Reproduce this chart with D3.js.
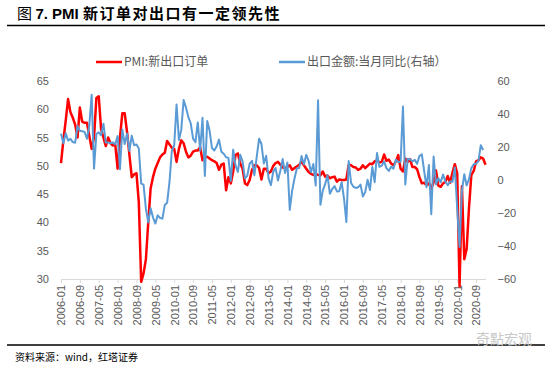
<!DOCTYPE html>
<html>
<head>
<meta charset="utf-8">
<script src="https://cdn.jsdelivr.net/npm/d3@7"></script>
<style>
  body { margin: 0; background: #fff; }
  svg { display: block; }
</style>
</head>
<body>
<svg id="chart" width="550" height="368"></svg>
<script>
// PMI new export orders, monthly 2006-01 .. 2021-01 (left axis)
const pmiNewExport = [
  50.5, 54.5, 58.0, 61.8, 59.5, 58.5, 57.3, 55.0, 60.3, 57.8, 57.6, 57.6,
  55.3, 53.0, 55.0, 62.0, 62.3, 56.5, 55.0, 53.5, 55.0, 54.0, 53.6, 53.8,
  49.5, 55.0, 59.3, 59.3, 56.0, 52.0, 48.0, 48.5, 48.7, 43.5, 29.5, 31.0,
  33.5, 40.0, 46.0, 48.0, 49.5, 50.5, 51.5, 52.0, 52.3, 54.4, 53.8, 53.2,
  53.0, 50.7, 53.0, 54.5, 54.0, 52.5, 51.5, 51.8, 52.5, 52.7, 52.7, 53.3,
  51.0, 51.6, 51.6, 51.3, 51.0, 50.8, 50.5, 49.3, 50.2, 50.4, 45.7, 48.0,
  46.9, 49.0, 51.9, 52.2, 50.4, 49.5, 46.9, 46.6, 47.5, 49.3, 50.1, 50.1,
  49.6, 47.6, 49.5, 49.5, 48.7, 49.0, 50.0, 50.5, 50.7, 50.2, 49.7, 49.6,
  49.8, 50.1, 49.3, 49.6, 49.9, 50.2, 50.7, 50.1, 49.5, 48.9, 48.6, 48.4,
  48.6, 48.4, 48.3, 49.0, 48.1, 48.3, 47.8, 48.0, 48.1, 47.2, 47.6, 47.5,
  47.5, 47.6, 50.2, 50.1, 49.8, 49.7, 49.3, 49.5, 50.1, 49.6, 50.0, 50.4,
  50.3, 50.8, 51.0, 50.6, 50.7, 52.0, 50.9, 51.1, 50.4, 50.1, 50.8, 51.9,
  49.5, 49.0, 51.3, 50.7, 51.2, 49.8, 49.8, 49.4, 48.0, 46.9, 47.0, 46.6,
  46.9, 46.0, 47.1, 49.2, 46.5, 46.3, 46.9, 47.2, 48.2, 47.0, 48.8, 50.3,
  48.7, 28.7, 46.4, 33.5, 35.3, 42.6, 48.4, 49.1, 50.8, 51.0, 51.5, 51.3,
  50.2
]

// Exports, monthly yoy %, 2006-01 .. 2020-12 (right axis)
const exportYoy = [
  28.1, 22.2, 28.3, 23.9, 24.9, 23.0, 22.6, 32.8, 29.8, 29.6, 29.1, 25.0,
  33.0, 51.7, 6.9, 27.9, 28.9, 27.1, 34.1, 22.7, 22.8, 22.3, 22.8, 21.7,
  26.6, 6.5, 30.6, 21.8, 28.1, 17.6, 26.9, 21.1, 21.5, 19.1, -2.2, -2.8,
  -17.5, -25.7, -17.1, -22.6, -26.4, -21.4, -23.0, -23.4, -15.2, -13.8, -1.2, 17.7,
  21.0, 45.7, 24.3, 30.5, 48.5, 43.9, 38.1, 34.4, 25.1, 22.9, 34.9, 17.9,
  37.7, 2.4, 35.8, 29.9, 19.4, 17.9, 20.4, 24.5, 17.1, 15.9, 13.8, 13.4,
  -0.5, 18.4, 8.9, 4.9, 15.3, 11.3, 1.0, 2.7, 9.9, 11.6, 2.9, 14.1,
  25.0, 21.8, 10.0, 14.7, 1.0, -3.1, 5.1, 7.2, -0.3, 5.6, 12.7, 4.3,
  10.6, -18.1, -6.6, 0.9, 7.0, 7.2, 14.5, 9.4, 15.3, 11.6, 4.7, 9.7,
  -3.3, 48.3, -15.0, -6.4, -2.5, 2.8, -8.3, -5.5, -3.7, -6.9, -6.8, -1.4,
  -11.2, -25.4, 11.5, -1.8, -4.1, -4.8, -4.4, -2.8, -10.0, -7.3, 0.1, -6.1,
  7.9, -1.3, 16.4, 8.0, 8.7, 11.3, 7.2, 5.5, 8.1, 6.9, 12.3, 10.9,
  11.1, 44.5, -2.7, 12.9, 12.6, 11.3, 12.2, 9.8, 14.5, 15.6, 5.4, -4.4,
  9.1, -20.7, 14.2, -2.7, 1.1, -1.3, 3.3, -1.0, -3.2, -0.9, -1.1, 7.6,
  -17.2, -40.6, -6.6, 3.5, -3.3, 0.5, 7.2, 9.5, 9.9, 11.4, 21.1, 18.1
]

const xTickLabels = [
  "2006-01", "2006-09", "2007-05", "2008-01", "2008-09", "2009-05",
  "2010-01", "2010-09", "2011-05", "2012-01", "2012-09", "2013-05",
  "2014-01", "2014-09", "2015-05", "2016-01", "2016-09", "2017-05",
  "2018-01", "2018-09", "2019-05", "2020-01", "2020-09"
]
const leftTicks = [30, 35, 40, 45, 50, 55, 60, 65]
const rightTicks = [-60, -40, -20, 0, 20, 40, 60]
const seriesNames = ["PMI:新出口订单", "出口金额:当月同比(右轴）"]

const months = pmiNewExport.map((v, i) => d3.timeFormat("%Y-%m")(new Date(2006, i, 1)))

const grey = "#595959"
const red = "#ff0000"
const blue = "#5b9bd5"
const plot = {left: 61, right: 485.5, top: 81, bottom: 279}

const svg = d3.select("#chart")

// title + rule
const title = svg.append("text")
  .attr("x", 17)
  .attr("y", 19)
  .style("font-size", "15px")
  .style("fill", "#000")
title.append("tspan").text("图 ")
  .style("font-family", "'Noto Sans CJK SC'")
title.append("tspan").text("7. PMI ")
  .style("font-family", "'Liberation Sans', Arial")
  .style("font-weight", "bold")
title.append("tspan").text("新订单对出口有一定领先性")
  .style("font-family", "'Noto Sans CJK SC'")
  .style("font-weight", "bold")
  .style("letter-spacing", "1.5px")

svg.append("line")
  .attr("x1", 7).attr("x2", 545)
  .attr("y1", 25.5).attr("y2", 25.5)
  .attr("stroke", "#000").attr("stroke-width", 1.5)

// scales
const x = d3.scalePoint().domain(months).range([plot.left, plot.right])
const yLeft = d3.scaleLinear().domain([30, 65]).range([plot.bottom, plot.top])
const yRight = d3.scaleLinear().domain([-60, 60]).range([plot.bottom, plot.top])

// axes
const axisFont = "'Liberation Sans', 'Noto Sans CJK SC', sans-serif"

const gLeft = svg.append("g")
  .attr("transform", `translate(${plot.left},0)`)
  .call(d3.axisLeft(yLeft).tickValues(leftTicks).tickSize(0).tickPadding(12))
gLeft.select(".domain").remove()

const gRight = svg.append("g")
  .attr("transform", `translate(${plot.right},0)`)
  .call(d3.axisRight(yRight).tickValues(rightTicks).tickSize(0).tickPadding(12))
gRight.select(".domain").remove()

const gBottom = svg.append("g")
  .attr("transform", `translate(0,${plot.bottom})`)
  .call(d3.axisBottom(x).tickValues(xTickLabels).tickSize(4).tickSizeOuter(0))
gBottom.select(".domain").attr("stroke", "#d9d9d9").attr("stroke-width", 1)
gBottom.selectAll(".tick line").attr("stroke", "#d9d9d9")
gBottom.selectAll("text")
  .attr("transform", "rotate(-90)")
  .attr("x", -6)
  .attr("y", 0)
  .attr("dy", "0.35em")
  .style("text-anchor", "end")

svg.selectAll(".tick text")
  .style("font-family", axisFont)
  .style("font-size", "11px")
  .style("fill", grey)

// lines
const pmiLine = d3.line()
  .x((d, i) => x(months[i]))
  .y(d => yLeft(d))

const exportLine = d3.line()
  .x((d, i) => x(months[i]))
  .y(d => yRight(d))

svg.append("path")
  .datum(pmiNewExport)
  .attr("d", pmiLine)
  .attr("fill", "none")
  .attr("stroke", red)
  .attr("stroke-width", 2.5)
  .attr("stroke-linejoin", "round")

svg.append("path")
  .datum(exportYoy)
  .attr("d", exportLine)
  .attr("fill", "none")
  .attr("stroke", blue)
  .attr("stroke-width", 2)
  .attr("stroke-linejoin", "round")

// legend
const legend = [
  {name: seriesNames[0], colour: red, x: 96},
  {name: seriesNames[1], colour: blue, x: 279}
]
const gLegend = svg.append("g")
legend.forEach(item => {
  gLegend.append("line")
    .attr("x1", item.x).attr("x2", item.x + 26)
    .attr("y1", 62).attr("y2", 62)
    .attr("stroke", item.colour).attr("stroke-width", 2.5)
  gLegend.append("text")
    .attr("x", item.x + 28)
    .attr("y", 62)
    .attr("dy", "0.35em")
    .style("font-family", "'Noto Sans CJK SC', sans-serif")
    .style("font-size", "12px")
    .style("fill", grey)
    .text(item.name)
})

// footer
svg.append("line")
  .attr("x1", 7).attr("x2", 545)
  .attr("y1", 345).attr("y2", 345)
  .attr("stroke", "#000").attr("stroke-width", 1.5)

svg.append("text")
  .attr("x", 15)
  .attr("y", 361)
  .style("font-family", "'Noto Sans CJK SC', sans-serif")
  .style("font-size", "10px")
  .style("fill", "#000")
  .text("资料来源：wind，红塔证券")

svg.append("text")
  .attr("x", 476)
  .attr("y", 344)
  .style("font-family", "'Noto Sans CJK SC', sans-serif")
  .style("font-size", "14px")
  .style("fill", "#c8c8c8")
  .text("奇點宏观")
</script>
</body>
</html>
